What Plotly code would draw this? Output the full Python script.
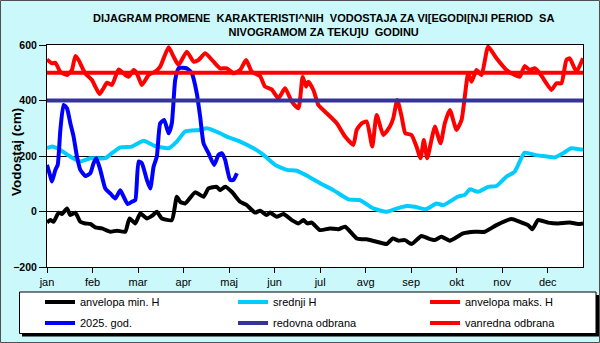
import plotly.graph_objects as go

# ---------------- data (day of year, water level in cm) ----------------
months = ["jan", "feb", "mar", "apr", "maj", "jun", "jul", "avg", "sep", "okt", "nov", "dec"]

min_days = [0, 2.3, 4.5, 7.9, 10.2, 13.6, 15.9, 19.3, 22.7, 26.1, 29.5, 32.9, 37.4, 43.1, 47.6, 53.3,
            56.2, 60.1, 63.5, 68, 71.4, 74.8, 78.2, 85, 88.4, 90.7, 94.1, 100.9, 106.6, 110, 115.6,
            117.9, 121.3, 125.8, 131.5, 136, 141.7, 145.1, 149.6, 151.9, 156.4, 161, 166.7, 171.2,
            174.6, 177.3, 180.3, 185.9, 192.7, 198.4, 203, 210.9, 214.3, 217.7, 224.5, 231.3, 235.4,
            239.2, 243.7, 248.3, 255, 259.6, 264.1, 268.6, 274.3, 283.4, 291.3, 298.1, 306.1, 316.3,
            322, 327.6, 330.5, 334.4, 341.2, 348, 355.9, 361.6, 365]
min_vals = [-40, -31, -37, -4, -9, 11, -13, -4, -37, -43, -45, -57, -61, -73, -69, -73,
            -25, -43, -7, -25, -16, -1, -25, -31, 53, 35, 29, 69, 53, 83, 89,
            77, 89, 71, 35, 23, -4, 3, -13, -4, -19, -9, -31, -43,
            -31, -43, -40, -67, -61, -64, -55, -97, -100, -100, -109, -117, -97,
            -105, -103, -117, -88, -97, -103, -91, -105, -79, -73, -73, -49, -27,
            -37, -49, -64, -31, -40, -43, -40, -45, -43]

mean_days = [0, 3.4, 9.1, 15.9, 22.7, 29.5, 39.7, 44.2, 49.9, 57.8, 65.8, 73.7, 82.8, 88.4, 94.1,
             104.3, 108.8, 117.9, 122.4, 131.5, 140.6, 147.4, 155.3, 163.3, 170.1, 178, 185.9, 195,
             205.2, 213.1, 222.2, 231.3, 240.3, 244.8, 250.5, 258, 265.2, 269.8, 280, 284.5, 287.9,
             293.6, 300.4, 306.1, 312.9, 318.5, 325.3, 332.1, 337.8, 345.7, 351.4, 357.1, 365]
mean_vals = [228, 234, 222, 198, 180, 192, 192, 210, 231, 234, 255, 236, 228, 252, 288,
             294, 300, 282, 270, 252, 228, 204, 168, 150, 147, 126, 102, 77,
             44, 41, 11, -1, 14, 20, 17, 8, 29, 23, 54, 60, 80,
             71, 89, 92, 126, 144, 212, 204, 200, 195, 210, 228, 222]

max_days = [0, 3.4, 5.7, 9, 13.6, 17, 19.3, 21.5, 26, 30.6, 32.9, 35.8, 38.5, 40.8, 44.2, 48.8, 53.3,
            55.6, 59, 61.2, 64.6, 69.2, 73.7, 77.1, 82.8, 86.2, 89.6, 95.2, 99.8, 103.2, 107.7, 113.4,
            117.9, 122.4, 127, 131.5, 135.6, 139.4, 145.1, 148.5, 153, 157.6, 162.1, 166.7, 171.2,
            174.1, 176.4, 178, 181.4, 184.8, 190.5, 197.3, 203, 208.6, 210.9, 214.3, 217.7, 221.5,
            224.5, 229, 233.5, 235.8, 238.5, 241.5, 244, 248.2, 251.6, 254.4, 256.6, 258.9, 261.8,
            264.1, 268, 270.9, 274.3, 278.9, 282.3, 284.5, 286.8, 289.1, 292.5, 295.9, 300.4, 306.1,
            312.9, 318.5, 322, 325.3, 328.7, 332.1, 335.5, 340.1, 343.5, 346.9, 350.3, 353.7, 356,
            360.5, 365]
max_vals = [548, 534, 536, 504, 492, 510, 560, 546, 498, 474, 450, 423, 444, 464, 456, 512, 492,
            486, 510, 498, 456, 492, 504, 522, 592, 558, 528, 576, 540, 546, 570, 540,
            516, 516, 498, 510, 546, 504, 488, 450, 440, 408, 444, 396, 372,
            486, 450, 468, 438, 384, 354, 318, 270, 240, 294, 318, 324, 234,
            348, 276, 306, 336, 402, 342, 282, 276, 234, 192, 258, 192, 258,
            306, 246, 318, 366, 294, 330, 414, 498, 468, 510, 492, 594, 552,
            510, 492, 486, 524, 510, 516, 498, 462, 438, 462, 462, 546, 552,
            504, 552]

cur_days = [0, 2.3, 3.4, 5.7, 7.3, 9.1, 11.3, 13.6, 15.9, 18.1, 20.4, 22.7, 26.1, 29.5, 31.7, 33.6,
            36.3, 39.7, 43.1, 46.5, 49.9, 52.2, 54.9, 57.8, 60.1, 62.4, 64.6, 68, 70.3, 72.6, 74.8,
            77.1, 79.8, 82.8, 85, 87.3, 89.6, 95.2, 98.6, 102, 104.3, 106.6, 110, 113.8, 116.8, 119,
            121.3, 124.7, 127, 129.3]
cur_vals = [168, 126, 108, 150, 168, 294, 384, 372, 318, 270, 198, 150, 128, 138, 174, 192,
            150, 83, 65, 47, 77, 53, 27, 35, 41, 180, 174, 114, 83, 162, 198,
            318, 330, 282, 318, 474, 516, 516, 498, 426, 342, 246, 210, 168, 204, 210,
            186, 114, 114, 138]

redovna_days = [0, 365]
redovna_vals = [400, 400]
vanredna_days = [0, 365]
vanredna_vals = [500, 500]

# ---------------- figure ----------------
FONT = "Liberation Sans, Arial, sans-serif"
L, R, T, B = 47, 583, 45, 267
W, H = 600, 343


def xp(px):
    return (px - L) / (R - L)


def yp(py):
    return (B - py) / (B - T)


fig = go.Figure()
# name, x, y, colour, legend id, legend left (px), legend row centre (px)
series = [
    ("anvelopa min. H", min_days, min_vals, "#000000", "legend", 40, 302),
    ("srednji H", mean_days, mean_vals, "#00CCFF", "legend2", 233, 302),
    ("anvelopa maks. H", max_days, max_vals, "#FF0000", "legend3", 425, 302),
    ("2025. god.", cur_days, cur_vals, "#0000FF", "legend4", 40, 323),
    ("redovna odbrana", redovna_days, redovna_vals, "#333399", "legend5", 233, 323),
    ("vanredna odbrana", vanredna_days, vanredna_vals, "#FF0000", "legend6", 425, 323),
]
legends = {}
for name, xs, ys, col, lg, lx, ly in series:
    fig.add_trace(go.Scatter(
        x=xs, y=ys, name=name, mode="lines",
        line=dict(color=col, width=4, shape="spline", smoothing=0.5),
        legend=lg, hoverinfo="skip"))
    legends[lg] = dict(
        orientation="h", xref="container", yref="container",
        x=lx / W, y=1 - ly / H, xanchor="left", yanchor="middle",
        bgcolor="rgba(0,0,0,0)", borderwidth=0,
        font=dict(family=FONT, size=11, color="#000000"),
    )

fig.update_layout(
    width=W, height=H,
    margin=dict(l=L, r=W - R, t=T, b=H - B, pad=0, autoexpand=False),
    paper_bgcolor="#CBF8FA",
    plot_bgcolor="#FFFFFF",
    font=dict(family=FONT, color="#000000", size=11),
    showlegend=True,
    xaxis=dict(
        range=[0, 365], tickmode="array",
        tickvals=[31 * i for i in range(12)], ticktext=months,
        ticks="outside", ticklen=5, tickwidth=1, tickcolor="#000000",
        showline=True, linecolor="#000000", linewidth=1, mirror=True,
        showgrid=False, zeroline=False,
        tickfont=dict(family=FONT, size=11, color="#000000"),
    ),
    yaxis=dict(
        range=[-200, 600], tickmode="array", tickvals=[-200, 0, 200, 400, 600],
        ticks="outside", ticklen=7, tickwidth=1, tickcolor="#000000",
        showline=True, linecolor="#000000", linewidth=1, mirror=True,
        showgrid=True, gridcolor="#000000", gridwidth=1, zeroline=False,
        tickfont=dict(family=FONT, size=10.5, color="#000000", weight="bold"),
    ),
    **legends,
)

nb = "\u00a0"
title_txt = ("<b>DIJAGRAM PROMENE" + nb + " KARAKTERISTI^NIH" + nb + " VODOSTAJA ZA VI[EGODI[NJI PERIOD"
             + nb + " SA<br>NIVOGRAMOM ZA TEKU]U" + nb + " GODINU</b>")
fig.add_annotation(text=title_txt, xref="paper", yref="paper", x=xp(323), y=yp(25.3),
                   xanchor="center", yanchor="middle", showarrow=False,
                   font=dict(family=FONT, size=11, color="#000000"))
fig.add_annotation(text="<b>Vodostaj (cm)</b>", xref="paper", yref="paper", x=xp(16), y=yp(152),
                   xanchor="center", yanchor="middle", showarrow=False, textangle=-90,
                   font=dict(family=FONT, size=13.5, color="#000000"))

# legend frame with shadow, and outer frame of the figure
fig.add_shape(type="rect", xref="paper", yref="paper", x0=xp(22), x1=xp(599), y0=yp(295), y1=yp(336.5),
              fillcolor="#000000", line=dict(width=0), layer="above")
fig.add_shape(type="rect", xref="paper", yref="paper", x0=xp(19.5), x1=xp(596), y0=yp(292), y1=yp(333.5),
              fillcolor="#FFFFFF", line=dict(color="#000000", width=1), layer="above")
fig.add_shape(type="rect", xref="paper", yref="paper", x0=xp(0.5), x1=xp(599.5), y0=yp(0.5), y1=yp(342.5),
              fillcolor="rgba(0,0,0,0)", line=dict(color="#505050", width=1), layer="above")

fig.write_html("out.html")
